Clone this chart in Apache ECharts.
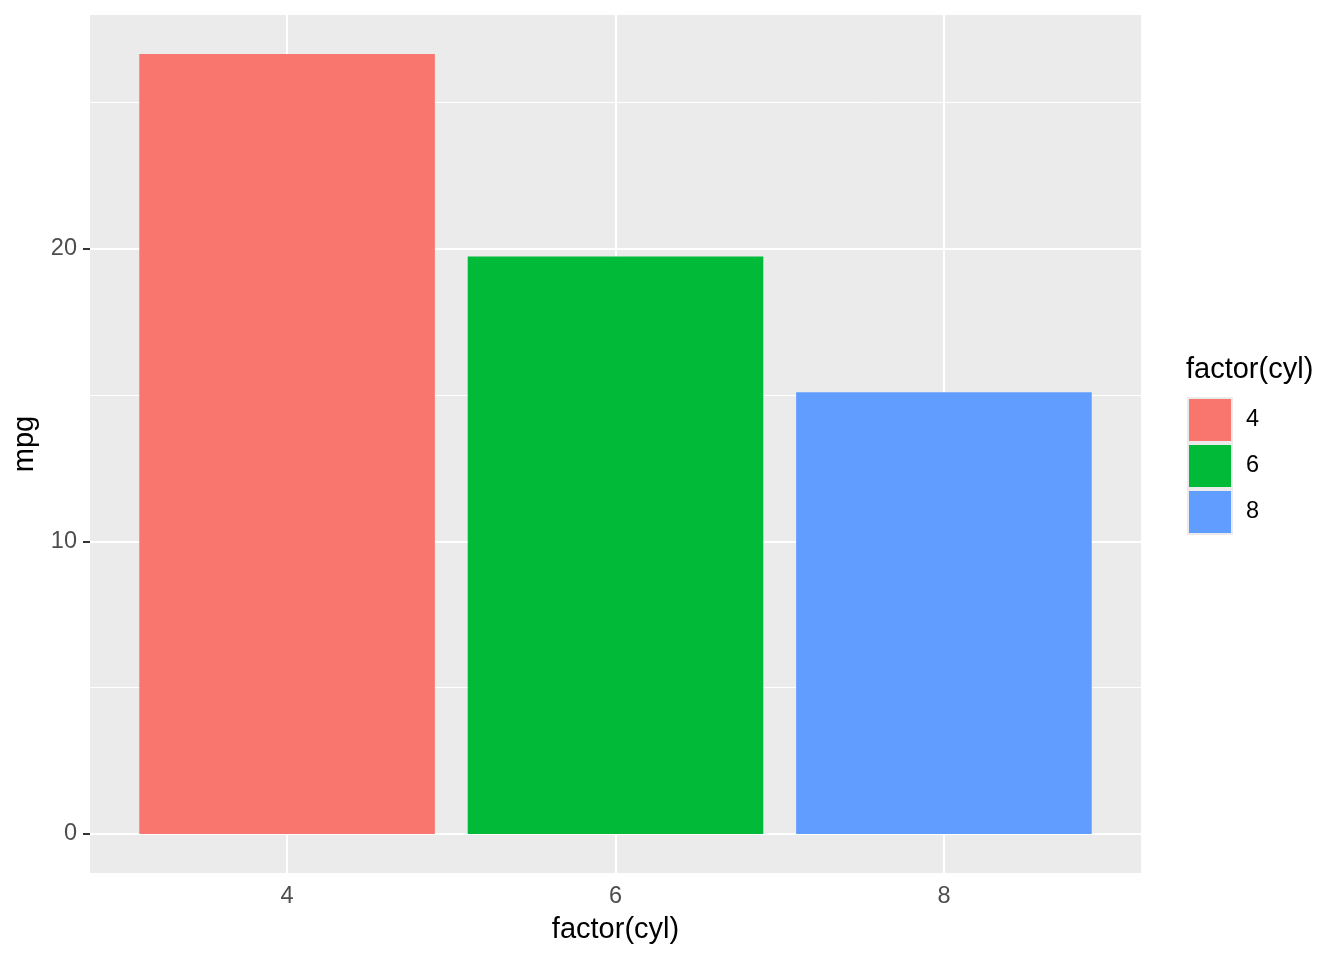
<!DOCTYPE html>
<html>
<head>
<meta charset="utf-8">
<script src="https://cdn.jsdelivr.net/npm/echarts@6/dist/echarts.min.js"></script>
<style>html,body{margin:0;padding:0;background:#fff;}#chart{width:1344px;height:960px;}</style>
</head>
<body>
<div id="chart"></div>
<script>
// ---- data ----
const categories = ['4', '6', '8'];
const mpgMeans = [26.66, 19.74, 15.10];
const yTicks = [0, 10, 20];
const yMinor = [5, 15, 25];
const xTitle = 'factor(cyl)';
const yTitle = 'mpg';
const legendTitle = 'factor(cyl)';

// ---- styles ----
const fillColors = ['#F8766D', '#00BA38', '#619CFF'];
const FONT = 'Liberation Sans, Arial, sans-serif';
const xPos = categories.map((c, i) => i + 1);

const chart = echarts.init(document.getElementById('chart'));

const barSeries = categories.map((c, i) => ({
  name: c,
  type: 'custom',
  z: 10,
  itemStyle: { color: fillColors[i] },
  data: [[xPos[i], mpgMeans[i]]],
  renderItem: function (params, api) {
    const p0 = api.coord([api.value(0) - 0.45, api.value(1)]);
    const p1 = api.coord([api.value(0) + 0.45, 0]);
    return {
      type: 'rect',
      shape: { x: p0[0], y: p0[1], width: p1[0] - p0[0], height: p1[1] - p0[1] },
      style: { fill: fillColors[i] }
    };
  }
}));

const gridSeries = {
  type: 'line',
  name: '__grid',
  data: [],
  z: 1,
  silent: true,
  markLine: {
    z: 1,
    zlevel: 0,
    silent: true,
    symbol: ['none', 'none'],
    label: { show: false },
    animation: false,
    data: [
      ...yMinor.map(v => ({ yAxis: v, lineStyle: { color: '#FFFFFF', width: 1, type: 'solid' } })),
      ...yTicks.map(v => ({ yAxis: v, lineStyle: { color: '#FFFFFF', width: 2, type: 'solid' } })),
      ...xPos.map(v => ({ xAxis: v, lineStyle: { color: '#FFFFFF', width: 2, type: 'solid' } }))
    ]
  }
};

chart.setOption({
  animation: false,
  backgroundColor: '#FFFFFF',
  textStyle: { fontFamily: FONT },
  grid: {
    left: 90, right: 203, top: 15, bottom: 87,
    show: true, backgroundColor: '#EBEBEB', borderWidth: 0
  },
  xAxis: {
    type: 'value',
    min: 0.4, max: 3.6,
    name: xTitle,
    nameLocation: 'middle',
    nameGap: 42,
    nameTextStyle: { fontSize: 29, color: '#000000', fontFamily: FONT },
    axisLine: { show: false },
    axisTick: { show: true, length: 7, lineStyle: { color: '#333333', width: 2 }, customValues: xPos },
    axisLabel: {
      show: true, fontSize: 23.5, color: '#4D4D4D', margin: 12, fontFamily: FONT,
      customValues: xPos,
      formatter: v => categories[Math.round(v) - 1]
    },
    splitLine: { show: false }
  },
  yAxis: {
    type: 'value',
    min: -1.333, max: 27.995,
    name: yTitle,
    nameLocation: 'middle',
    nameGap: 47,
    nameRotate: 90,
    nameTextStyle: { fontSize: 29, color: '#000000', fontFamily: FONT },
    axisLine: { show: false },
    axisTick: { show: true, length: 7, lineStyle: { color: '#333333', width: 2 }, customValues: yTicks },
    axisLabel: { show: true, fontSize: 23.5, color: '#4D4D4D', margin: 13, fontFamily: FONT, customValues: yTicks },
    splitLine: { show: false }
  },
  legend: {
    orient: 'vertical',
    left: 1187, top: 397,
    padding: 0,
    itemWidth: 44, itemHeight: 44, itemGap: 0,
    icon: 'rect',
    data: categories,
    itemStyle: { borderColor: '#EBEBEB', borderWidth: 2 },
    textStyle: { fontSize: 23.5, color: '#000000', fontFamily: FONT, padding: [0, 0, 0, 9] },
    selectedMode: false
  },
  graphic: [{
    type: 'text',
    left: 1186, top: 355,
    style: { text: legendTitle, fontSize: 29, fill: '#000000', fontFamily: FONT }
  }],
  series: [gridSeries, ...barSeries]
});
</script>
</body>
</html>
